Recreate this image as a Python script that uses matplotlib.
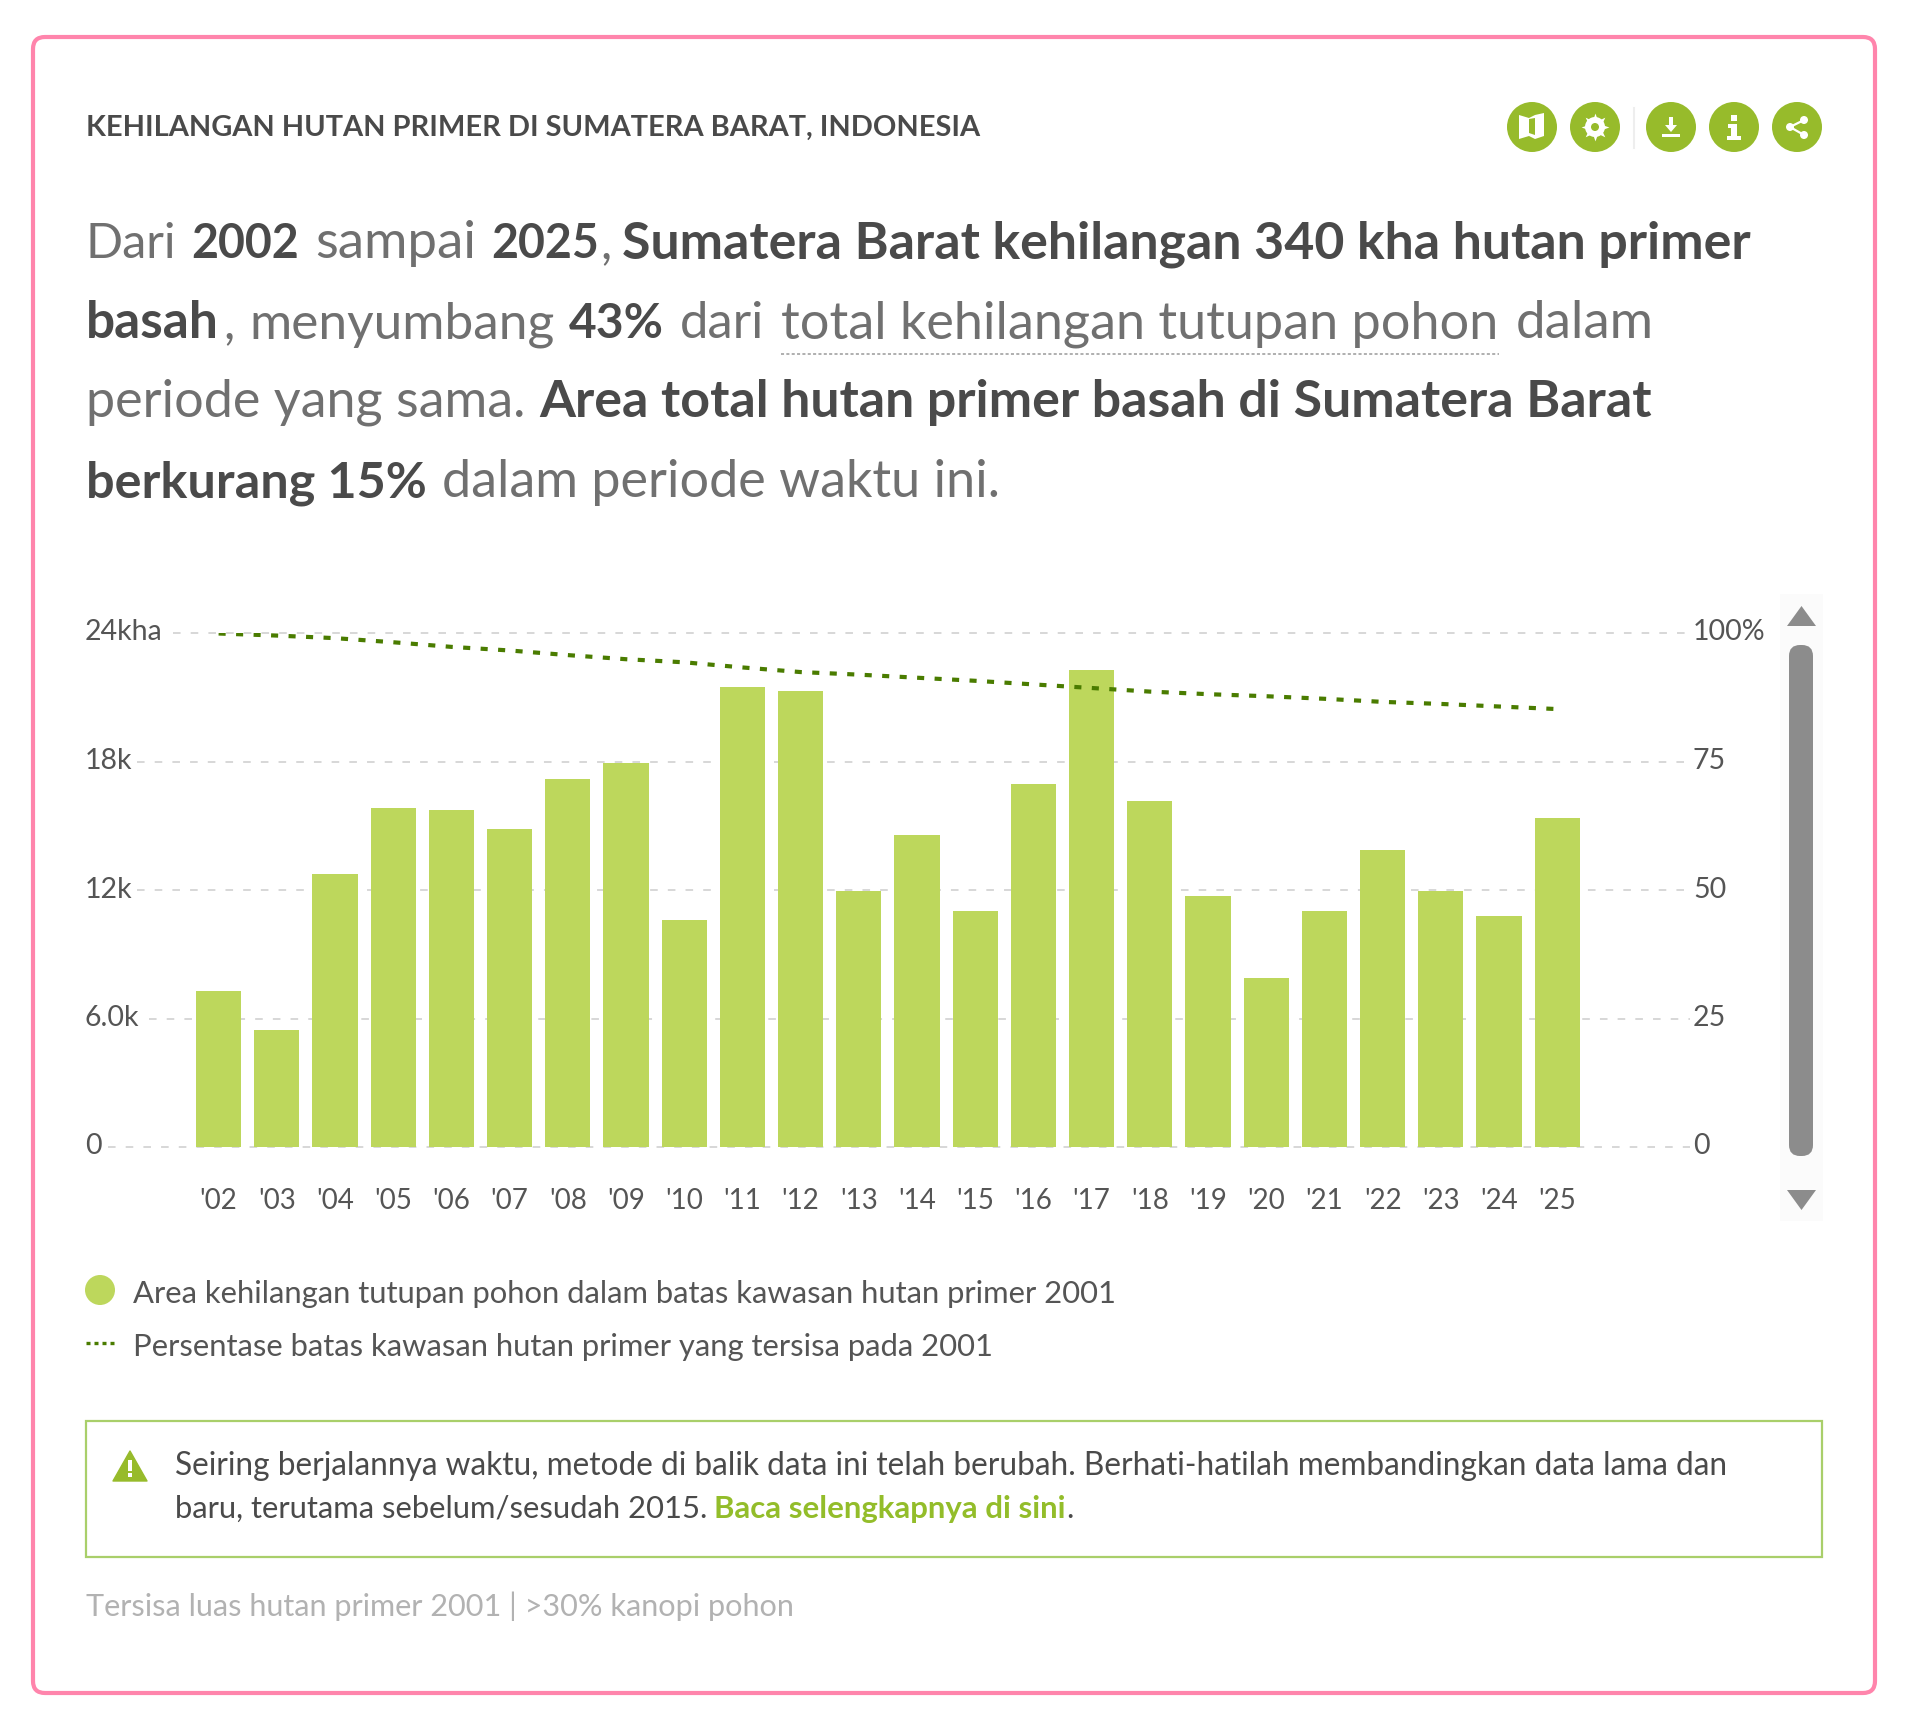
import matplotlib
matplotlib.use('Agg')
import matplotlib.pyplot as plt
from matplotlib.patches import Circle, FancyBboxPatch, Polygon, Rectangle
from matplotlib.transforms import ScaledTranslation

FONT = 'Lato'
plt.rcParams['font.family'] = [FONT, 'DejaVu Sans']

years = ["'02", "'03", "'04", "'05", "'06", "'07", "'08", "'09", "'10", "'11", "'12", "'13",
         "'14", "'15", "'16", "'17", "'18", "'19", "'20", "'21", "'22", "'23", "'24", "'25"]
loss_ha = [7275, 5440, 12770, 15810, 15750, 14835, 17180, 17930, 10600, 21480, 21310, 11970,
           14550, 11000, 16950, 22280, 16150, 11740, 7900, 11000, 13860, 11970, 10770, 15350]
remaining_pct = [99.9, 99.5, 99.0, 98.2, 97.3, 96.6, 95.7, 94.9, 94.3, 93.3, 92.4, 91.9,
                 91.3, 90.7, 90.0, 89.3, 88.6, 88.1, 87.7, 87.2, 86.6, 86.2, 85.7, 85.2]
left_ticks = [0, 6000, 12000, 18000, 24000]
left_labels = ['0', '6.0k', '12k', '18k', '24kha']
right_ticks = [0, 25, 50, 75, 100]
right_labels = ['0', '25', '50', '75', '100%']
grid_start_px = [108, 149, 137, 137, 173]

W, H = 1920, 1720
BAR = '#bdd75c'
GREEN = '#97bb2b'
LINE = '#4a7c00'
GRID = '#d4d4d4'
TXT = '#555555'
DARK = '#4a4a4a'
SOFT = '#707070'

fig = plt.figure(figsize=(W / 100, H / 100), dpi=100, facecolor='white')

# page layer, one unit is one pixel
page = fig.add_axes([0, 0, 1, 1], zorder=0)
page.set_xlim(0, W)
page.set_ylim(H, 0)
page.axis('off')


def put(x, y, text, size, weight='normal', color=TXT):
    page.text(x, y, text, fontsize=size, fontweight=weight, color=color, va='baseline')


# card
page.add_patch(FancyBboxPatch((33, 37), 1842, 1656, boxstyle='round,pad=0,rounding_size=12',
                              fc='white', ec='#ff85ac', lw=3))

put(86, 136, 'KEHILANGAN HUTAN PRIMER DI SUMATERA BARAT, INDONESIA', 20.9, 'bold', DARK)

# header buttons
ICON_Y = 127
for cx in [1532, 1595, 1671, 1734, 1797]:
    page.add_patch(Circle((cx, ICON_Y), 25, fc=GREEN, ec='none'))
page.plot([1634, 1634], [108, 148], color='#eeeeee', lw=1.5)
# map
page.add_patch(Polygon([(1519, 115), (1529, 118), (1535, 115), (1544, 113), (1544, 136), (1535, 139),
                        (1529, 136), (1519, 139)], fc='white', ec='none'))
page.add_patch(Polygon([(1529, 119), (1535, 118), (1535, 135), (1529, 133)], fc=GREEN, ec='none'))
# gear
page.add_patch(Circle((1595, ICON_Y), 10, fc='white', ec='none', zorder=3))
page.scatter([1595], [ICON_Y], s=400, marker=(8, 1, 0), c='white', linewidths=0, zorder=3)
page.add_patch(Circle((1595, ICON_Y), 4, fc=GREEN, ec='none', zorder=4))
# download
page.add_patch(Rectangle((1669, 117), 4, 9, fc='white', ec='none'))
page.add_patch(Polygon([(1665, 125), (1677, 125), (1671, 132)], fc='white', ec='none'))
page.add_patch(Rectangle((1662, 134), 18, 3, fc='white', ec='none'))
# info
page.add_patch(Rectangle((1731, 115), 6, 6, fc='white', ec='none'))
page.add_patch(Polygon([(1728, 124), (1737, 124), (1737, 136), (1741, 136), (1741, 140), (1727, 140),
                        (1727, 136), (1731, 136), (1731, 128), (1728, 128)], fc='white', ec='none'))
# share
for sx, sy in [(1804, 120), (1790, 127), (1804, 135)]:
    page.add_patch(Circle((sx, sy), 4, fc='white', ec='none', zorder=3))
page.plot([1804, 1790, 1804], [120, 127, 135], color='white', lw=1.6, zorder=3)

# headline paragraph, each run starts where the reference has it
put(86, 258, 'Dari', 35, 'normal', SOFT)
put(191, 258, '2002', 33.5, 'bold', DARK)
put(315, 258, 'sampai', 38, 'normal', SOFT)
put(491, 258, '2025', 33.5, 'bold', DARK)
put(600, 258, ',', 36, 'normal', SOFT)
put(622, 258, 'Sumatera Barat kehilangan 340 kha hutan primer', 37.4, 'bold', DARK)
put(86, 338, 'basah', 37, 'bold', DARK)
put(223, 338, ',', 36, 'normal', SOFT)
put(249, 338, 'menyumbang', 37, 'normal', SOFT)
put(569, 338, '43%', 34.5, 'bold', DARK)
put(680, 338, 'dari', 36.6, 'normal', SOFT)
put(781, 338, 'total kehilangan tutupan pohon', 37.6, 'normal', SOFT)
put(1516, 338, 'dalam', 38, 'normal', SOFT)
page.plot([781, 1499], [354, 354], color='#9a9a9a', lw=1.1, ls=(0, (2, 1.5)))
put(86, 417, 'periode yang sama.', 37.5, 'normal', SOFT)
put(539, 417, 'Area total hutan primer basah di Sumatera Barat', 37.4, 'bold', DARK)
put(86, 497, 'berkurang 15%', 36.2, 'bold', DARK)
put(442, 497, 'dalam periode waktu ini.', 37.5, 'normal', SOFT)

# scrollbar
page.add_patch(Rectangle((1780, 594), 43, 627, fc='#fbfbfb', ec='none'))
page.add_patch(FancyBboxPatch((1789, 645), 24, 511, boxstyle='round,pad=0,rounding_size=11',
                              fc='#8c8c8c', ec='none'))
page.add_patch(Polygon([(1787, 626), (1816, 626), (1801.5, 606)], fc='#8c8c8c', ec='none', joinstyle='round'))
page.add_patch(Polygon([(1787, 1190), (1816, 1190), (1801.5, 1210)], fc='#8c8c8c', ec='none', joinstyle='round'))

# chart
AX_L, AX_R, AX_T, AX_B = 85, 1693, 633, 1147
X0, PITCH = 218.6, 58.2
ax = fig.add_axes([AX_L / W, 1 - AX_B / H, (AX_R - AX_L) / W, (AX_B - AX_T) / H], zorder=1)
ax.patch.set_alpha(0)
ax.set_xlim((AX_L - X0) / PITCH, (AX_R - X0) / PITCH)
ax.set_ylim(0, 24000)
for spine in ax.spines.values():
    spine.set_visible(False)

x = list(range(len(years)))
for val, start in zip(left_ticks, grid_start_px):
    ax.hlines(val, (start - X0) / PITCH, (1690 - X0) / PITCH, color=GRID, lw=1.3,
              linestyles=[(0, (4.2, 5.6))], zorder=1, clip_on=False)
ax.bar(x, loss_ha, width=0.775, color=BAR, zorder=2)

ax.set_xticks(x, years)
ax.set_yticks(left_ticks, left_labels)
ax.tick_params(axis='x', length=0, pad=29.5, labelsize=20, labelcolor=TXT)
ax.tick_params(axis='y', length=0, pad=0, labelsize=20.5, labelcolor=TXT)
up = ScaledTranslation(0, 3 / 100, fig.dpi_scale_trans)
for lab in ax.get_yticklabels():
    lab.set_horizontalalignment('left')
    lab.set_transform(lab.get_transform() + up)

ax2 = ax.twinx()
ax2.patch.set_alpha(0)
ax2.set_ylim(0, 100)
for spine in ax2.spines.values():
    spine.set_visible(False)
ax2.set_yticks(right_ticks, right_labels)
ax2.tick_params(axis='y', length=0, pad=0, labelsize=20.5, labelcolor=TXT)
for lab in ax2.get_yticklabels():
    lab.set_transform(lab.get_transform() + up)
ax2.plot(x, remaining_pct, color=LINE, lw=3, ls=(0, (1.7, 2.5)), dash_capstyle='butt', zorder=3)

# legend
page.add_patch(Circle((100, 1290), 15, fc=BAR, ec='none'))
page.plot([86, 116], [1343, 1343], color=LINE, lw=2.4, ls=(0, (1.2, 1.2)))
put(133, 1303, 'Area kehilangan tutupan pohon dalam batas kawasan hutan primer 2001', 22.3)
put(133, 1356, 'Persentase batas kawasan hutan primer yang tersisa pada 2001', 22.3)

# note box
page.add_patch(Rectangle((86, 1421), 1736, 136, fc='white', ec='#a9cf6a', lw=1.6))
page.add_patch(Polygon([(113, 1481), (147, 1481), (130, 1451)], fc=GREEN, ec=GREEN, lw=1, joinstyle='round'))
page.add_patch(Rectangle((128, 1460), 4, 11, fc='white', ec='none', zorder=3))
page.add_patch(Rectangle((128, 1473), 4, 4, fc='white', ec='none', zorder=3))
put(175, 1475, 'Seiring berjalannya waktu, metode di balik data ini telah berubah. '
    'Berhati-hatilah membandingkan data lama dan', 22.8, color=DARK)
put(175, 1518, 'baru, terutama sebelum/sesudah 2015.', 22.3, color=DARK)
put(714, 1518, 'Baca selengkapnya di sini', 22.4, 'bold', '#93bd2a')
put(1066, 1518, '.', 22.3, color=DARK)

put(86, 1616, 'Tersisa luas hutan primer 2001 | >30% kanopi pohon', 22.1, color='#b2b2b2')

fig.savefig('out.png', dpi=100)
